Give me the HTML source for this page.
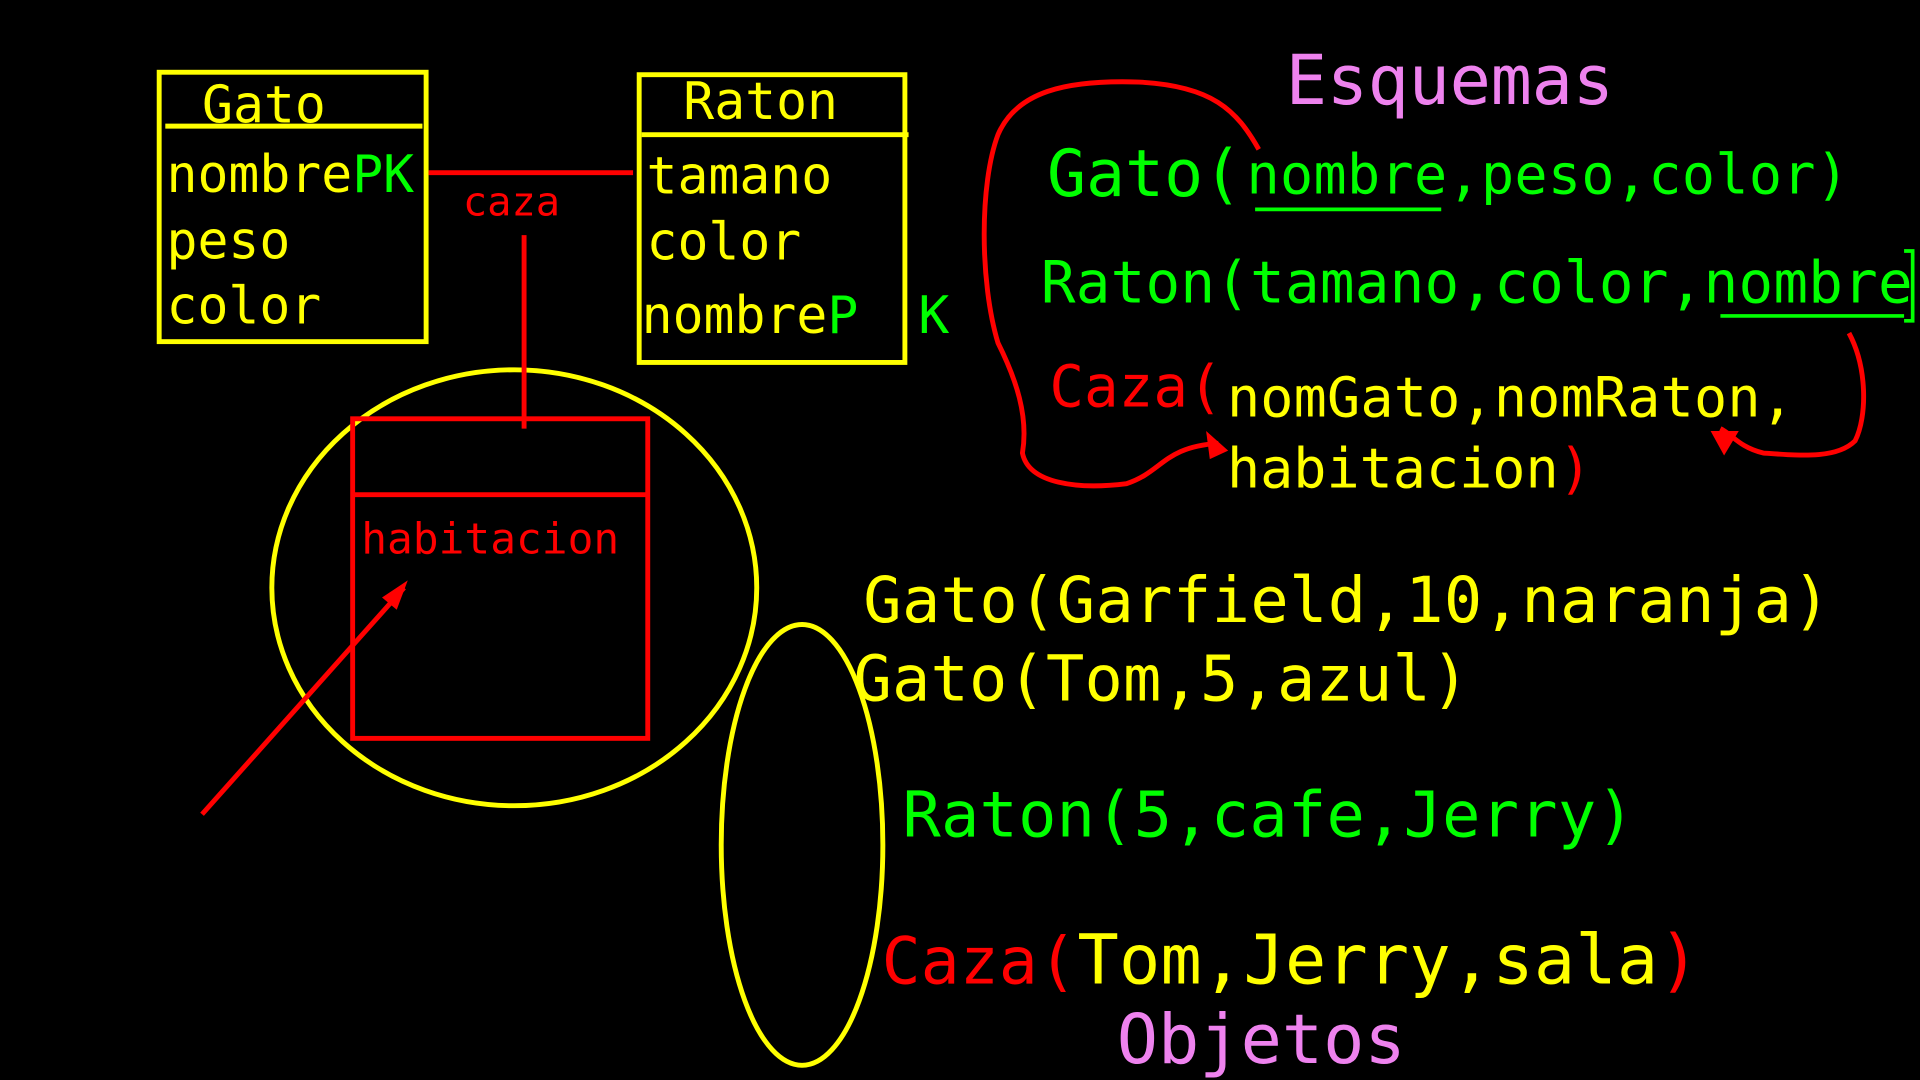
<!DOCTYPE html>
<html><head><meta charset="utf-8"><style>
html,body{margin:0;padding:0;background:#000;overflow:hidden}
svg{display:block}
text{font-family:"DejaVu Sans Mono","Liberation Mono",monospace}
</style></head><body>
<svg width="1920" height="1080" viewBox="0 0 1568 882" preserveAspectRatio="none">
<rect width="1568" height="882" fill="#000"/>
<g fill="none" stroke="#ffff00" stroke-width="4">
<rect x="130" y="59" width="218" height="220"/>
<line x1="135" y1="103" x2="345" y2="103"/>
<rect x="522" y="61" width="217" height="235"/>
<line x1="524" y1="110" x2="742" y2="110"/>
<ellipse cx="420" cy="480" rx="198" ry="178"/>
<ellipse cx="655" cy="690" rx="66" ry="180"/>
</g>
<g fill="none" stroke="#ff0000" stroke-width="4">
<line x1="350" y1="141" x2="517" y2="141"/>
<line x1="428" y1="192" x2="428" y2="350"/>
<rect x="288" y="342" width="241" height="261"/>
<line x1="288" y1="404" x2="529" y2="404"/>
<line x1="165" y1="665" x2="330" y2="480"/>
<path d="M1028,122 C1010,90 990,70 930,67 C870,65 830,75 815,110 C800,150 800,230 815,280 C830,310 840,340 835,370 C840,395 880,400 920,395 C950,385 950,365 995,362"/>
<path d="M1510,272 C1525,300 1525,340 1515,360 C1500,375 1470,372 1440,370 C1420,365 1415,355 1405,350"/>
</g>
<polygon points="333,474 312,488 324,498" fill="#ff0000"/>
<polygon points="985,352 1003,368 988,375" fill="#ff0000"/>
<polygon points="1397,352 1420,352 1408,372" fill="#ff0000"/>
<g stroke="#00ff00" stroke-width="3" fill="none">
<line x1="1025" y1="171" x2="1177" y2="171"/>
<line x1="1405" y1="258" x2="1555" y2="258"/>
<path d="M1555,205 L1562,205 L1562,262 L1555,262"/>
</g>
<g fill="#ffff00" font-size="42">
<text x="165" y="100">Gato</text>
<text x="136" y="157">nombre<tspan fill="#00ff00">PK</tspan></text>
<text x="136" y="211">peso</text>
<text x="136" y="264">color</text>
<text x="558" y="97">Raton</text>
<text x="528" y="158">tamano</text>
<text x="528" y="212">color</text>
<text x="524" y="272">nombre<tspan fill="#00ff00">P</tspan></text>
</g>
<text x="750" y="272" font-size="42" fill="#00ff00">K</text>
<text x="378" y="176" font-size="33" fill="#ff0000">caza</text>
<text x="295" y="452" font-size="35" fill="#ff0000">habitacion</text>
<text x="1050" y="85" font-size="56" fill="#ee82ee" textLength="268">Esquemas</text>
<text x="855" y="160" font-size="53" fill="#00ff00">Gato(</text>
<text x="1018" y="158" font-size="45" fill="#00ff00" textLength="492">nombre,peso,color)</text>
<text x="850" y="247" font-size="47" fill="#00ff00" textLength="712">Raton(tamano,color,nombre</text>
<text x="857" y="332" font-size="47" fill="#ff0000">Caza(</text>
<text x="1002" y="340" font-size="45" fill="#ffff00" textLength="463">nomGato,nomRaton,</text>
<text x="1002" y="398" font-size="45" fill="#ffff00">habitacion<tspan fill="#ff0000">)</tspan></text>
<text x="705" y="508" font-size="52" fill="#ffff00" textLength="790">Gato(Garfield,10,naranja)</text>
<text x="697" y="572" font-size="52" fill="#ffff00" textLength="503">Gato(Tom,5,azul)</text>
<text x="737" y="683" font-size="52" fill="#00ff00" textLength="598">Raton(5,cafe,Jerry)</text>
<text x="720" y="803" font-size="53" fill="#ff0000">Caza(</text>
<text x="880" y="803" font-size="56" fill="#ffff00" textLength="508">Tom,Jerry,sala<tspan fill="#ff0000">)</tspan></text>
<text x="912" y="868" font-size="56" fill="#ee82ee" textLength="236">Objetos</text>
</svg>
</body></html>
